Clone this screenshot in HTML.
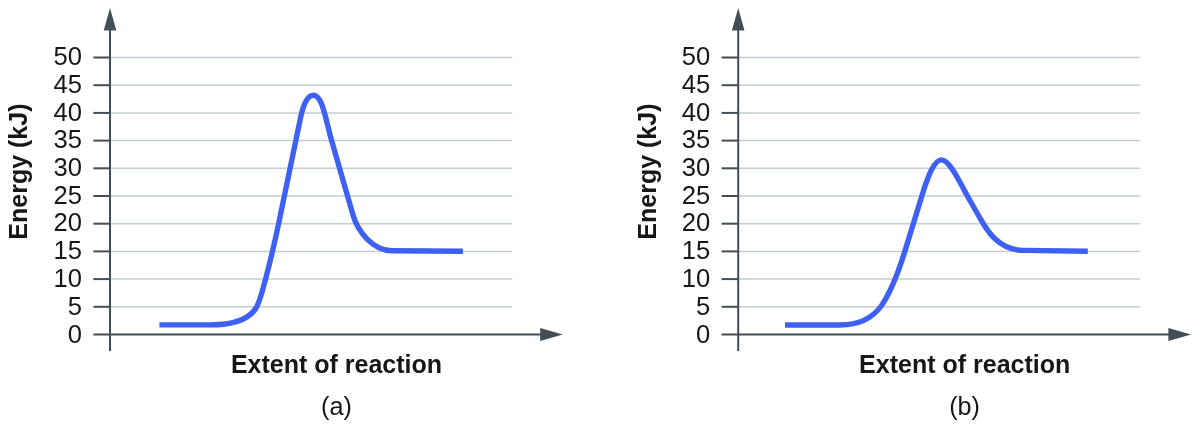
<!DOCTYPE html>
<html><head><meta charset="utf-8">
<style>
html,body{margin:0;padding:0;background:#fff;}
svg{display:block;}
text{font-family:"Liberation Sans",Arial,sans-serif;fill:#17161a;}
.t{font-size:25.6px;text-anchor:end;}
.b{font-size:25px;font-weight:bold;text-anchor:middle;}
.c{font-size:25.2px;text-anchor:middle;}
.k{fill:none;stroke:#3e61f3;stroke-width:5.4;stroke-linejoin:round;}
</style></head><body>
<svg width="1200" height="428" viewBox="0 0 1200 428">
<rect width="1200" height="428" fill="#fff"/>
<g>
  <g stroke="#c3cfcf" stroke-width="1.5"><line x1="110" x2="512.3" y1="57.5" y2="57.5"/><line x1="110" x2="512.3" y1="85.2" y2="85.2"/><line x1="110" x2="512.3" y1="112.9" y2="112.9"/><line x1="110" x2="512.3" y1="140.6" y2="140.6"/><line x1="110" x2="512.3" y1="168.3" y2="168.3"/><line x1="110" x2="512.3" y1="196.0" y2="196.0"/><line x1="110" x2="512.3" y1="223.7" y2="223.7"/><line x1="110" x2="512.3" y1="251.4" y2="251.4"/><line x1="110" x2="512.3" y1="279.1" y2="279.1"/><line x1="110" x2="512.3" y1="306.8" y2="306.8"/></g>
  <g stroke="#434f57" stroke-width="2"><line x1="93.4" x2="110" y1="57.5" y2="57.5"/><line x1="93.4" x2="110" y1="85.2" y2="85.2"/><line x1="93.4" x2="110" y1="112.9" y2="112.9"/><line x1="93.4" x2="110" y1="140.6" y2="140.6"/><line x1="93.4" x2="110" y1="168.3" y2="168.3"/><line x1="93.4" x2="110" y1="196.0" y2="196.0"/><line x1="93.4" x2="110" y1="223.7" y2="223.7"/><line x1="93.4" x2="110" y1="251.4" y2="251.4"/><line x1="93.4" x2="110" y1="279.1" y2="279.1"/><line x1="93.4" x2="110" y1="306.8" y2="306.8"/>
    <line x1="93.4" x2="541" y1="334.5" y2="334.5"/>
    <line x1="110" x2="110" y1="29" y2="351"/>
  </g>
  <polygon points="110,8 116.3,30.5 103.7,30.5" fill="#434f57"/>
  <polygon points="562.8,334.5 540.2,340.9 540.2,328.1" fill="#434f57"/>
  <g class="t"><text x="82" y="65">50</text><text x="82" y="93">45</text><text x="82" y="121">40</text><text x="82" y="148">35</text><text x="82" y="176">30</text><text x="82" y="204">25</text><text x="82" y="231">20</text><text x="82" y="259">15</text><text x="82" y="287">10</text><text x="82" y="315">5</text><text x="82" y="343">0</text></g>
  <text class="b" transform="translate(27.3,171.6) rotate(-90)">Energy (kJ)</text>
  <text class="b" x="336.5" y="373">Extent of reaction</text>
</g>
<path class="k" d="M159.4,324.9 L210,324.9 C230,324.9 248,321 256,308 C259.5,302.3 263.5,287.3 265.7,278.7 C267.9,270.1 275.5,238.8 278.6,223.8 L300.5,118 C303.3,104.5 307.5,95.2 313.5,95.2 C322.5,95.2 325.6,119.6 331.6,140.6 L353,215 C357.6,231 372.5,250.6 392,250.8 L462.9,251.3"/>
<text class="c" x="336.4" y="415">(a)</text>
<g transform="translate(628.2,0)">
<g>
  <g stroke="#c3cfcf" stroke-width="1.5"><line x1="110" x2="512.3" y1="57.5" y2="57.5"/><line x1="110" x2="512.3" y1="85.2" y2="85.2"/><line x1="110" x2="512.3" y1="112.9" y2="112.9"/><line x1="110" x2="512.3" y1="140.6" y2="140.6"/><line x1="110" x2="512.3" y1="168.3" y2="168.3"/><line x1="110" x2="512.3" y1="196.0" y2="196.0"/><line x1="110" x2="512.3" y1="223.7" y2="223.7"/><line x1="110" x2="512.3" y1="251.4" y2="251.4"/><line x1="110" x2="512.3" y1="279.1" y2="279.1"/><line x1="110" x2="512.3" y1="306.8" y2="306.8"/></g>
  <g stroke="#434f57" stroke-width="2"><line x1="93.4" x2="110" y1="57.5" y2="57.5"/><line x1="93.4" x2="110" y1="85.2" y2="85.2"/><line x1="93.4" x2="110" y1="112.9" y2="112.9"/><line x1="93.4" x2="110" y1="140.6" y2="140.6"/><line x1="93.4" x2="110" y1="168.3" y2="168.3"/><line x1="93.4" x2="110" y1="196.0" y2="196.0"/><line x1="93.4" x2="110" y1="223.7" y2="223.7"/><line x1="93.4" x2="110" y1="251.4" y2="251.4"/><line x1="93.4" x2="110" y1="279.1" y2="279.1"/><line x1="93.4" x2="110" y1="306.8" y2="306.8"/>
    <line x1="93.4" x2="541" y1="334.5" y2="334.5"/>
    <line x1="110" x2="110" y1="29" y2="351"/>
  </g>
  <polygon points="110,8 116.3,30.5 103.7,30.5" fill="#434f57"/>
  <polygon points="562.8,334.5 540.2,340.9 540.2,328.1" fill="#434f57"/>
  <g class="t"><text x="82" y="65">50</text><text x="82" y="93">45</text><text x="82" y="121">40</text><text x="82" y="148">35</text><text x="82" y="176">30</text><text x="82" y="204">25</text><text x="82" y="231">20</text><text x="82" y="259">15</text><text x="82" y="287">10</text><text x="82" y="315">5</text><text x="82" y="343">0</text></g>
  <text class="b" transform="translate(27.3,171.6) rotate(-90)">Energy (kJ)</text>
  <text class="b" x="336.5" y="373">Extent of reaction</text>
</g>
<path class="k" d="M156.8,325 L212,325 C232,325 245,317 253,306 C262,293 270.7,270.6 276.7,251.1 L293.8,195.5 C299.6,176.5 306,159.9 313.4,159.9 C321.4,159.9 331.5,181.9 338.9,195.5 L352,218.5 C357.5,228.2 369,250 395,250.4 L459.6,251.3"/>
<text class="c" x="336.4" y="415">(b)</text>
</g>
</svg>
</body></html>
